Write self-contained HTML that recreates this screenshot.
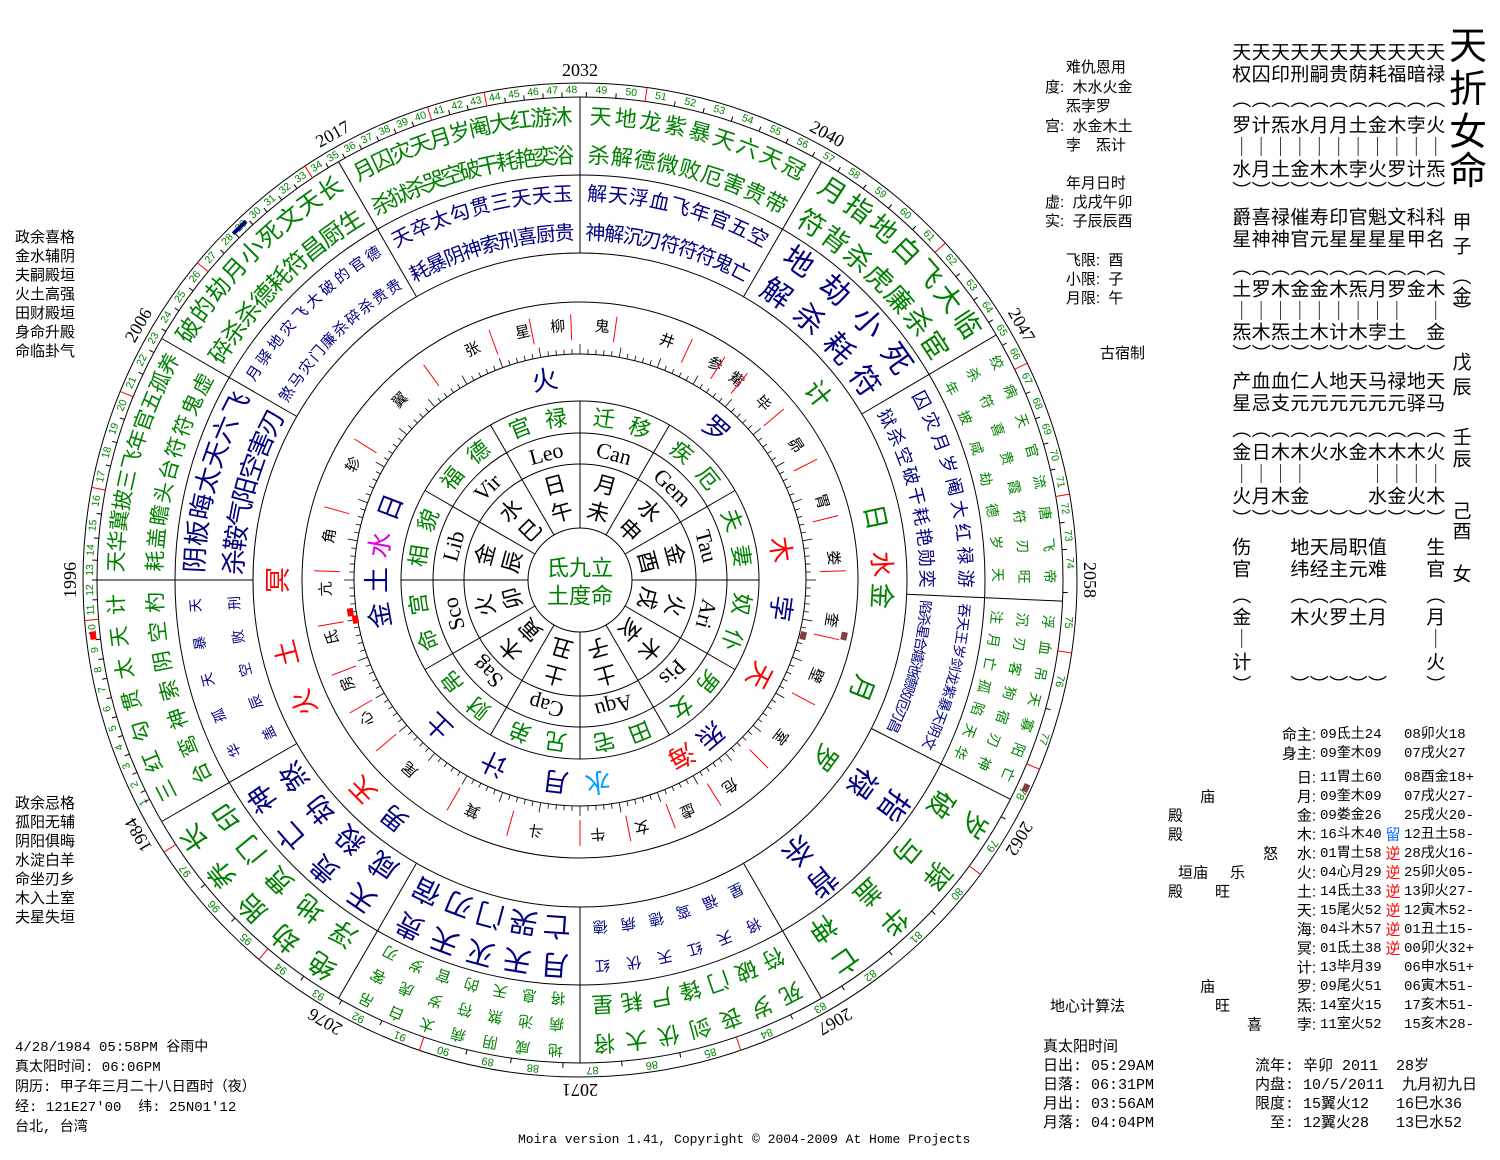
<!DOCTYPE html>
<html><head><meta charset="utf-8">
<style>
html,body{margin:0;padding:0;background:#fff;}
body{width:1500px;height:1160px;position:relative;overflow:hidden;font-family:"Liberation Sans","Noto Sans CJK SC",sans-serif;color:#000;}
.t{position:absolute;white-space:pre;font-size:15px;line-height:15px;}
.m{font-family:"Liberation Mono","Noto Sans CJK SC",monospace;font-size:14px;}
svg{position:absolute;left:0;top:0;}
svg text{font-family:"Liberation Sans","Noto Sans CJK SC",sans-serif;}
</style></head><body>
<svg id="chart" width="1500" height="1160" viewBox="0 0 1500 1160"></svg>

<div class="t" style="left:15px;top:228px;line-height:19px">政余喜格
金水辅阴
夫嗣殿垣
火土高强
田财殿垣
身命升殿
命临卦气</div>
<div class="t" style="left:15px;top:794px;line-height:19px">政余忌格
孤阳无辅
阴阳俱晦
水淀白羊
命坐刃乡
木入土室
夫星失垣</div>
<div class="t m" style="left:15px;top:1038px;line-height:20px">4/28/1984 05:58PM 谷雨中
真太阳时间: 06:06PM
阴历: 甲子年三月二十八日酉时（夜）
经: 121E27'00  纬: 25N01'12
台北, 台湾</div>
<div class="t" style="left:518px;top:1132px;font-family:'Liberation Mono',monospace;font-size:13px">Moira version 1.41, Copyright © 2004-2009 At Home Projects</div>

<div class="t" style="left:1045px;top:58px;line-height:19.5px">     难仇恩用
度:  木水火金
     炁孛罗
宫:  水金木土
     孛　炁计</div>
<div class="t" style="left:1045px;top:174px;line-height:19px">     年月日时
虚:  戊戌午卯
实:  子辰辰酉</div>
<div class="t" style="left:1045px;top:251px;line-height:19px">     飞限:  酉
     小限:  子
     月限:  午</div>
<div class="t" style="left:1100px;top:346px">古宿制</div>

<div class="t m" style="left:1043px;top:1038px;line-height:19px;font-size:15px">真太阳时间
日出: 05:29AM
日落: 06:31PM
月出: 03:56AM
月落: 04:04PM</div>
<div class="t m" style="left:1255px;top:1057px;line-height:19px;font-size:15px">流年: 辛卯 2011  28岁
内盘: 10/5/2011  九月初九日
限度: 15翼火12   16巳水36
　至: 12翼火28   13巳水52</div>
<div class="t" style="left:1050px;top:999px">地心计算法</div>

<script>
(function(){
const cx=580,cy=580;
const R=Math.PI/180;
function P(r,a){return [cx+r*Math.cos(a*R), cy-r*Math.sin(a*R)];}
let s='';
function f(n){return n.toFixed(1);}
function circ(r,w){s+=`<circle cx="${cx}" cy="${cy}" r="${r}" fill="none" stroke="#000" stroke-width="${w||1}"/>`;}
function rad(a,r1,r2,col,w){const p=P(r1,a),q=P(r2,a);s+=`<line x1="${f(p[0])}" y1="${f(p[1])}" x2="${f(q[0])}" y2="${f(q[1])}" stroke="${col||'#000'}" stroke-width="${w||1}"/>`;}
function ch(t,r,a,size,col,fam){const p=P(r,a);s+=`<text x="${f(p[0])}" y="${f(p[1])}" font-size="${size}" fill="${col||'#000'}" text-anchor="middle" dominant-baseline="central"${fam?` style="font-family:${fam}"`:''} transform="rotate(${f(90-a)} ${f(p[0])} ${f(p[1])})">${t}</text>`;}
function arcRow(str,r,a1,a2,size,col){const c=[...str];const n=c.length;const st=(a1-a2)/n;c.forEach((k,i)=>{if(k!==' ')ch(k,r,a1-st*(i+0.5),size,col);});}
const SERIF="'Liberation Serif',serif";
const MONO="'Liberation Mono','Noto Sans CJK SC',monospace";

[52,116,147,179,226,278,327,405,483,497].forEach(r=>circ(r));
for(let a=0;a<360;a+=30) rad(a,52,179);
const B=[120,90,60,30.5,-2.5,-27,-60,-90,-120,-150,-180,-210,-240];
for(let i=0;i<12;i++) rad(B[i],327,483);

const OUT=[
[["月囚灾天月岁阉大红游沐","杀狱杀哭空破干耗艳奕浴"],22],
[["天地龙紫暴天六天冠","杀解德微败厄害贵带"],22],
[["月指地白飞大临","符背杀虎廉杀宦"],27],
[["绞病天官流唐飞帝","杀符喜贵霞符刃旺","年披咸劫德岁天"],14],
[["浮血吊天寡阳亡","沉刃客狗宿刃神","注月亡孤陷天华"],14],
[["岁驿华亡","破马盖神"],27],
[["死岁丧剑伏大将","符破门锋尸耗星"],22],
[["地咸阴病太白吊","病池煞符岁虎客","将息天的官岁刃"],15],
[["绝劫胎养长","浮地贯门印"],27],
[["三红勾贯太天计","台鸾神索阴空杓"],21],
[["天华冀披三飞年官五孤养","耗盖瞻头台符符鬼虚"],21],
[["破的劫月小死文天长","碎杀杀德耗符昌厨生"],24]];
const INN=[
[["天卒太勾贯三天天玉","耗暴阴神索刑喜厨贵"],20],
[["解天浮血飞年官五空","神解沉刃符符符鬼亡"],20],
[["地劫小死","解杀耗符"],30],
[["囚灾月岁阉大红禄游","狱杀空破干耗艳勋奕"],18],
[["吞天王岁剑龙紫暴天阴文","陷杀星合嬉池德败厄刃昌"],14],
[["指背","禄杀"],30],
[["将天红天伏红","星福鸾德病德"],15],
[["月天灭天贵","亡哭门刃宿"],28],
[["天贵亡神","咸殺劫煞"],28],
[["华孤天暴天","盖辰空败刑"],14],
[["阴板晦太天六飞","杀鞍气阳空害刃"],26],
[["月驿地灾飞大破的官德","煞马灾门廉杀碎杀贵贵"],15]];
function band(list,r0,r1,col){
 list.forEach((d,i)=>{const rows=d[0],sz=d[1];const a1=B[i],a2=B[i+1];
  const n=rows.length;const h=(r1-r0);
  rows.forEach((row,j)=>{const r=r1-h*(j+0.5)/n;arcRow(row,r,a1-1,a2+1,sz,col);});});
}
band(OUT,405,483,'#008000');
band(INN,327,405,'#000080');

[['计',38,'#008000'],['日',12,'#008000'],['水',3,'#ff0000'],['金',-3,'#008000'],['月',-21,'#008000'],['罗',-36,'#008000'],
 ['冥',180,'#ff0000'],['土',194,'#ff0000'],['火',204,'#ff0000'],['天',224,'#ff0000'],['男',232,'#000080']].forEach(p=>ch(p[0],302,p[1],26,p[2]));
[['火',100,'#000080'],['罗',48,'#000080'],['木',8.6,'#ff0000'],['孛',-8,'#000080'],['天',-28,'#ff0000'],['炁',-50,'#000080'],['海',-60,'#ff0000'],
 ['水',-85,'#00a0ff'],['月',-97,'#000080'],['计',-115,'#000080'],['土',-134,'#000080'],['日',159,'#000080'],['水',170,'#e000e0'],['土',180,'#000080'],['金',190,'#000080']].forEach(p=>ch(p[0],203,p[1],26,p[2]));

for(let a=0;a<360;a+=2){rad(a,226,a%10==0?236:231,'#000',0.8);}
const MS=[['鬼',85],['柳',95],['星',103],['张',115],['翼',135],['轸',153],['角',170],['亢',182],['氐',193],['房',204],['心',213],['尾',228],['箕',245],['斗',260],['牛',274],['女',284],['虚',295],['危',306],['室',322],['壁',338],['奎',351],['娄',5],['胃',18],['昴',32],['毕',44],['觜',52],['参',58],['井',70]];
MS.forEach(m=>ch(m[0],254,m[1],15,'#000'));
const MB=[80,90,99,108,124,146,162,176,188,199,208,218,238,252,268,279,289,300,313,330,345,0,12,25,38,49,55,63];
MB.forEach(a=>rad(a+2,240,266,'#ff0000',1));

const HA=[[15,'夫妻'],[45,'疾厄'],[75,'迁移'],[105,'官禄'],[135,'福德'],[165,'相貌'],[195,'命宫'],[225,'财帛'],[255,'兄弟'],[285,'田宅'],[315,'男女'],[345,'奴仆']];
HA.forEach(h=>{ch(h[1][0],163,h[0]+6.5,22,'#008000');ch(h[1][1],163,h[0]-6.5,22,'#008000');});
const SG=[[15,'Tau'],[45,'Gem'],[75,'Can'],[105,'Leo'],[135,'Vir'],[165,'Lib'],[195,'Sco'],[225,'Sag'],[255,'Cap'],[285,'Aqu'],[315,'Pis'],[345,'Ari']];
SG.forEach(g=>ch(g[1],131,g[0],22,'#000',SERIF));
const IN2=[[15,'金','酉'],[45,'水','申'],[75,'月','未'],[105,'日','午'],[135,'水','巳'],[165,'金','辰'],[195,'火','卯'],[225,'木','寅'],[255,'土','丑'],[285,'土','子'],[315,'木','亥'],[345,'火','戌']];
IN2.forEach(g=>{ch(g[1],98,g[0],22,'#000');ch(g[2],70,g[0],22,'#000');});
s+=`<text x="580" y="568" font-size="22" fill="#008000" text-anchor="middle" dominant-baseline="central">氐九立</text>`;
s+=`<text x="580" y="596" font-size="22" fill="#008000" text-anchor="middle" dominant-baseline="central">土度命</text>`;

const AN=[[1,207],[11,183.5],[14,176.5],[28,136],[48,91],[58,56],[63,37],[74,2],[88,-95.5],[97,-143.6],[98,-150]];
function ageA(n){for(let i=0;i<AN.length-1;i++){const a=AN[i],b=AN[i+1];if(n>=a[0]&&n<=b[0])return a[1]+(b[1]-a[1])*(n-a[0])/(b[0]-a[0]);}return 0;}
const redT=[10,16,20,26,33,40,43,50,61,66,71,75,77,79,84,90,94,97];
for(let n=1;n<=98;n++){const a=ageA(n);
 if(n<98) ch(String(n),490,a,(n>74?11:10.5),'#008000');
 const m=(n<98)?(a+ageA(n+1))/2:a-3;
 rad(m,483,redT.includes(n)?497:488,redT.includes(n)?'#ff0000':'#000',1);
}
[[2032,90],[2040,61],[2047,30],[2058,0],[2062,-30.5],[2067,-60],[2071,-90],[2076,-120],[1984,-150],[1996,180],[2006,150],[2017,119]].forEach(y=>ch(String(y[0]),510,y[1],18,'#000',SERIF));

(function(){const p=P(490,134);s+=`<rect x="${f(p[0]-9)}" y="${f(p[1]-2)}" width="18" height="4" fill="#000080" transform="rotate(${f(90-134)} ${f(p[0])} ${f(p[1])})"/>`;})();
[[186.5,490,'#ff0000'],[190,228,'#ff0000'],[188,232,'#ff0000'],[-14,230,'#804040'],[-12,270,'#804040'],[-25,492,'#804040']].forEach(m=>{const p=P(m[1],m[0]);s+=`<rect x="${f(p[0]-4)}" y="${f(p[1]-3)}" width="8" height="6" fill="${m[2]}" transform="rotate(${f(90-m[0])} ${f(p[0])} ${f(p[1])})"/>`;});

function tx(t,x,y,size,col,anchor,fam){s+=`<text x="${x}" y="${y}" font-size="${size}" fill="${col||'#000'}" text-anchor="${anchor||'start'}" dominant-baseline="central"${fam?` style="font-family:${fam}"`:''}>${t}</text>`;}
[['天',47],['折',90],['女',133],['命',172]].forEach(c=>tx(c[0],1468,c[1],38,'#000','middle'));
[['甲',223],['子',247],['︵',277],['金',297],['︶',313],['戊',363],['辰',388],['壬',438],['辰',460],['己',512],['酉',532],['女',575]].forEach(c=>tx(c[0],1462,c[1],19,'#000','middle'));
const G=[
[53,'天天天天天天天天天天天'],[75,'权囚印刑嗣贵荫耗福暗禄'],[100,'︵︵︵︵︵︵︵︵︵︵︵'],
[126,'罗计炁水月月土金木孛火'],[148,'｜｜｜｜｜｜｜｜｜｜｜'],[170,'水月土金木木孛火罗计炁'],[192,'︶︶︶︶︶︶︶︶︶︶︶'],
[218,'爵喜禄催寿印官魁文科科'],[240,'星神神官元星星星星甲名'],[268,'︵︵︵︵︵︵︵︵︵︵︵'],
[290,'土罗木金金木炁月罗金木'],[312,'｜｜｜｜｜｜｜｜｜ ｜'],[333,'炁木炁土木计木孛土 金'],[355,'︶︶︶︶︶︶︶︶︶︶︶'],
[382,'产血血仁人地天马禄地天'],[404,'星忌支元元元元元元驿马'],[430,'︵︵︵︵︵︵︵︵︵︵︵'],
[453,'金日木木火水金木木木火'],[475,'｜｜｜｜   ｜｜｜｜'],[497,'火月木金   水金火木'],[520,'︶︶︶︶︶︶︶︶︶︶︶'],
[548,'伤  地天局职值  生'],[570,'官  纬经主元难  官'],[596,'︵  ︵︵︵︵︵  ︵'],
[618,'金  木火罗土月  月'],[640,'｜         ｜'],[663,'计         火'],[686,'︶  ︶︶︶︶︶  ︶']];
G.forEach(g=>{const c=[...g[1]];c.forEach((k,i)=>{if(k!==' ')tx(k,1232+9.7+i*19.4,g[0],19,'#000','middle');});});

const PT=[[735,'命主:','09氐土24','','08卯火18'],[754,'身主:','09奎木09','','07戌火27'],
[778,'日:','11胃土60','','08酉金18+'],[797,'月:','09奎木09','','07戌火27-'],[816,'金:','09娄金26','','25戌火20-'],
[835,'木:','16斗木40','留','12丑土58-'],[854,'水:','01胃土58','逆','28戌火16-'],[873,'火:','04心月29','逆','25卯火05-'],
[892,'土:','14氐土33','逆','13卯火27-'],[911,'天:','15尾火52','逆','12寅木52-'],[930,'海:','04斗木57','逆','01丑土15-'],
[949,'冥:','01氐土38','逆','00卯火32+'],[968,'计:','13毕月39','','06申水51+'],[987,'罗:','09尾火51','','06寅木51-'],
[1006,'炁:','14室火15','','17亥木51-'],[1025,'孛:','11室火52','','15亥木28-']];
PT.forEach(p=>{tx(p[1],1316,p[0],15,'#000','end');tx(p[2],1320,p[0],14,'#000','start',MONO);if(p[3])tx(p[3],1393,p[0],15,p[3]=='留'?'#0070ff':'#ff0000','middle');tx(p[4],1404,p[0],14,'#000','start',MONO);});
[['庙',1200,797],['殿',1168,816],['殿',1168,835],['怒',1263,854],['垣庙',1178,873],['乐',1230,873],['殿',1168,892],['旺',1215,892],['庙',1200,987],['旺',1215,1006],['喜',1247,1025]].forEach(m=>tx(m[0],m[1],m[2],15));

document.getElementById('chart').innerHTML=s;
})();
</script>
</body></html>
